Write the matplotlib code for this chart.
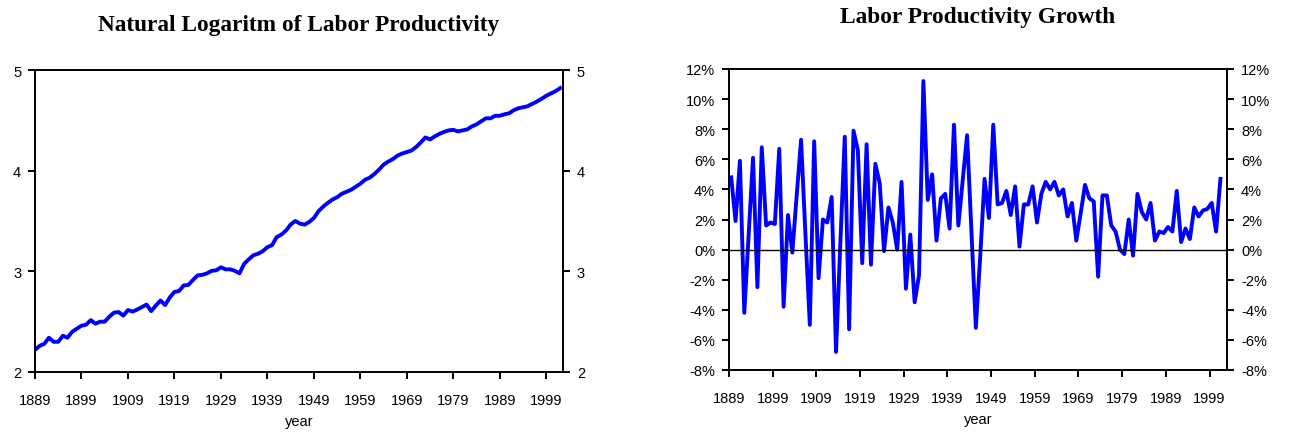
import numpy as np
import matplotlib
matplotlib.use("Agg")
from matplotlib import pyplot as plt
from matplotlib.ticker import FuncFormatter

# log labor productivity, 1889-2002
ln_years = np.arange(1889, 2003)
ln_prod = [
    2.22, 2.26, 2.28, 2.34, 2.30, 2.30, 2.36, 2.34, 2.40, 2.43,
    2.46, 2.47, 2.515, 2.48, 2.50, 2.50, 2.55, 2.59, 2.595, 2.56,
    2.615, 2.60, 2.62, 2.645, 2.67, 2.605, 2.66, 2.71, 2.665, 2.74,
    2.795, 2.805, 2.86, 2.865, 2.915, 2.96, 2.965, 2.98, 3.005, 3.01,
    3.04, 3.02, 3.02, 3.005, 2.98, 3.075, 3.12, 3.16, 3.175, 3.20,
    3.24, 3.26, 3.34, 3.365, 3.405, 3.465, 3.50, 3.474, 3.464, 3.49,
    3.53, 3.597, 3.643, 3.68, 3.713, 3.736, 3.77, 3.79, 3.81, 3.84,
    3.87, 3.91, 3.93, 3.966, 4.01, 4.06, 4.09, 4.115, 4.15, 4.17,
    4.185, 4.20, 4.235, 4.28, 4.33, 4.31, 4.34, 4.365, 4.385, 4.40,
    4.405, 4.39, 4.40, 4.41, 4.44, 4.46, 4.49, 4.52, 4.52, 4.545,
    4.545, 4.56, 4.57, 4.60, 4.62, 4.63, 4.64, 4.664, 4.687, 4.714,
    4.744, 4.767, 4.79, 4.82,
]

# growth rate (%), 1890-2002
gr_years = np.arange(1890, 2003)
growth = [
    4.8, 1.9, 5.9, -4.2, 1.0, 6.1, -2.5, 6.8, 1.6, 1.8,
    1.7, 6.7, -3.8, 2.3, -0.2, 3.6, 7.3, 1.0, -5.0, 7.2,
    -1.9, 2.0, 1.8, 3.5, -6.8, 0.5, 7.5, -5.3, 7.9, 6.6,
    -0.9, 7.0, -1.0, 5.7, 4.4, -0.1, 2.8, 1.8, 0.0, 4.5,
    -2.6, 1.0, -3.5, -1.7, 11.2, 3.3, 5.0, 0.6, 3.4, 3.7,
    1.4, 8.3, 1.6, 4.6, 7.6, 1.2, -5.2, -0.5, 4.7, 2.1,
    8.3, 3.0, 3.1, 3.9, 2.3, 4.2, 0.2, 3.0, 3.0, 4.2,
    1.8, 3.7, 4.5, 4.0, 4.5, 3.6, 4.0, 2.2, 3.1, 0.6,
    2.4, 4.3, 3.4, 3.2, -1.8, 3.6, 3.6, 1.6, 1.2, 0.0,
    -0.3, 2.0, -0.4, 3.7, 2.5, 2.0, 3.1, 0.6, 1.2, 1.1,
    1.5, 1.2, 3.9, 0.5, 1.4, 0.7, 2.8, 2.2, 2.6, 2.7,
    3.1, 1.2, 4.7,
]

tick_years = np.arange(1889, 2000, 10)

plt.rcParams['font.family'] = ['Liberation Sans', 'DejaVu Sans']
plt.rcParams['font.size'] = 10

fig = plt.figure(figsize=(12.91, 4.39), dpi=100)
blue = '#0000ff'


def style_axes(ax):
    for s in ax.spines.values():
        s.set_linewidth(1.4)
        s.set_color('black')
    ax.tick_params(axis='both', direction='out', length=5, width=1.4,
                   labelsize=10.5, pad=5)
    ax.tick_params(axis='x', pad=10)
    ax.tick_params(axis='y', left=True, right=True, labelleft=True,
                   labelright=True)
    ax.set_xticks(tick_years)
    ax.set_xticklabels([str(y) for y in tick_years])
    ax.set_xlabel('year', fontsize=10.5, labelpad=5)


# left panel
ax1 = fig.add_axes([35 / 1291, 1 - 373 / 439, 528 / 1291, 302 / 439])
ax1.plot(ln_years, ln_prod, color=blue, lw=2.8, solid_joinstyle='round')
ax1.set_xlim(1889, 2002.6)
ax1.set_ylim(2, 5)
ax1.set_yticks([2, 3, 4, 5])
style_axes(ax1)
fig.text((35 + 563) / 2 / 1291, 1 - 25 / 439,
         'Natural Logaritm of Labor Productivity', ha='center', va='center',
         fontsize=16.8, fontweight='bold', family='Liberation Serif')

# right panel
ax2 = fig.add_axes([729 / 1291, 1 - 371 / 439, 498 / 1291, 301 / 439])
ax2.plot(gr_years - 0.5, growth, color=blue, lw=2.8, solid_joinstyle='round')
ax2.axhline(0, color='black', lw=1)
ax2.set_xlim(1889, 2003)
ax2.set_ylim(-8, 12)
ax2.set_yticks(np.arange(-8, 13, 2))
ax2.yaxis.set_major_formatter(FuncFormatter(lambda v, p: f'{v:.0f}%'))
style_axes(ax2)
fig.text((729 + 1227) / 2 / 1291, 1 - 17 / 439,
         'Labor Productivity Growth', ha='center', va='center',
         fontsize=16.8, fontweight='bold', family='Liberation Serif')

fig.savefig('out.png', dpi=100)
